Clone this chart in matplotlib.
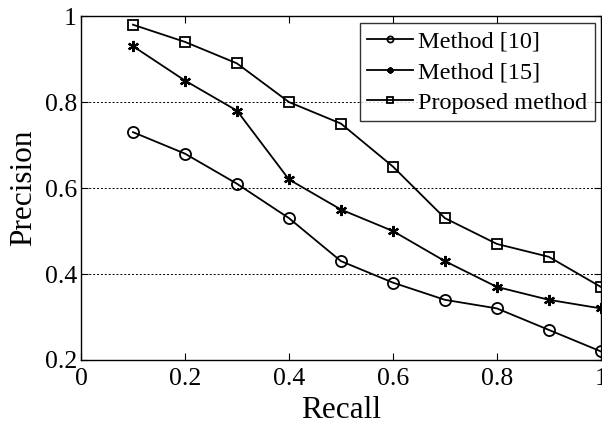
import numpy as np
import matplotlib.pyplot as plt

plt.rcParams['font.family'] = ['Liberation Serif', 'DejaVu Serif']

recall = [0.1, 0.2, 0.3, 0.4, 0.5, 0.6, 0.7, 0.8, 0.9, 1.0]
method10 = [0.73, 0.68, 0.61, 0.53, 0.43, 0.38, 0.34, 0.32, 0.27, 0.22]
method15 = [0.93, 0.85, 0.78, 0.62, 0.55, 0.50, 0.43, 0.37, 0.34, 0.32]
proposed = [0.98, 0.94, 0.89, 0.80, 0.75, 0.65, 0.53, 0.47, 0.44, 0.37]

fig = plt.figure(figsize=(6.02, 4.24), dpi=100)
ax = fig.add_axes([0.1346, 0.151, 0.8634, 0.811])

ax.plot(recall, method10, color='black', lw=1.3, marker='o', ms=8,
        mfc='none', mew=1.3, label='Method [10]', clip_on=False, zorder=3)
ax.plot(recall, method15, color='black', lw=1.3, marker=(6, 2, 0), ms=8,
        mew=1.6, label='Method [15]', clip_on=False, zorder=3)
ax.plot(recall, proposed, color='black', lw=1.3, marker='s', ms=7.5,
        mfc='none', mew=1.3, label='Proposed method', clip_on=False, zorder=3)

ax.set_xlim(0, 1)
ax.set_ylim(0.2, 1)
ax.set_xticks([0, 0.2, 0.4, 0.6, 0.8, 1])
ax.set_xticklabels(['0', '0.2', '0.4', '0.6', '0.8', '1'])
ax.set_yticks([0.2, 0.4, 0.6, 0.8, 1])
ax.set_yticklabels(['0.2', '0.4', '0.6', '0.8', '1'])
ax.tick_params(direction='in', top=True, right=True, labelsize=18.5, length=5)
ax.tick_params(axis='x', pad=6)
ax.tick_params(axis='y', pad=3)
for sp in ax.spines.values():
    sp.set_linewidth(1.0)

for y in [0.4, 0.6, 0.8]:
    ax.axhline(y, color='black', lw=0.7, ls=(0, (2, 2)), zorder=1)

ax.set_xlabel('Recall', fontsize=22.5, labelpad=4)
ax.set_ylabel('Precision', fontsize=22.5, labelpad=5)

leg = ax.legend(loc='upper right', fontsize=17.5, frameon=True, fancybox=False,
                edgecolor='black', handlelength=1.9, borderpad=0.3,
                labelspacing=0.36, handletextpad=0.2, borderaxespad=0,
                markerscale=0.55, bbox_to_anchor=(0.988, 0.980))
leg.get_frame().set_linewidth(1.0)

fig.savefig('out.png', dpi=100)
